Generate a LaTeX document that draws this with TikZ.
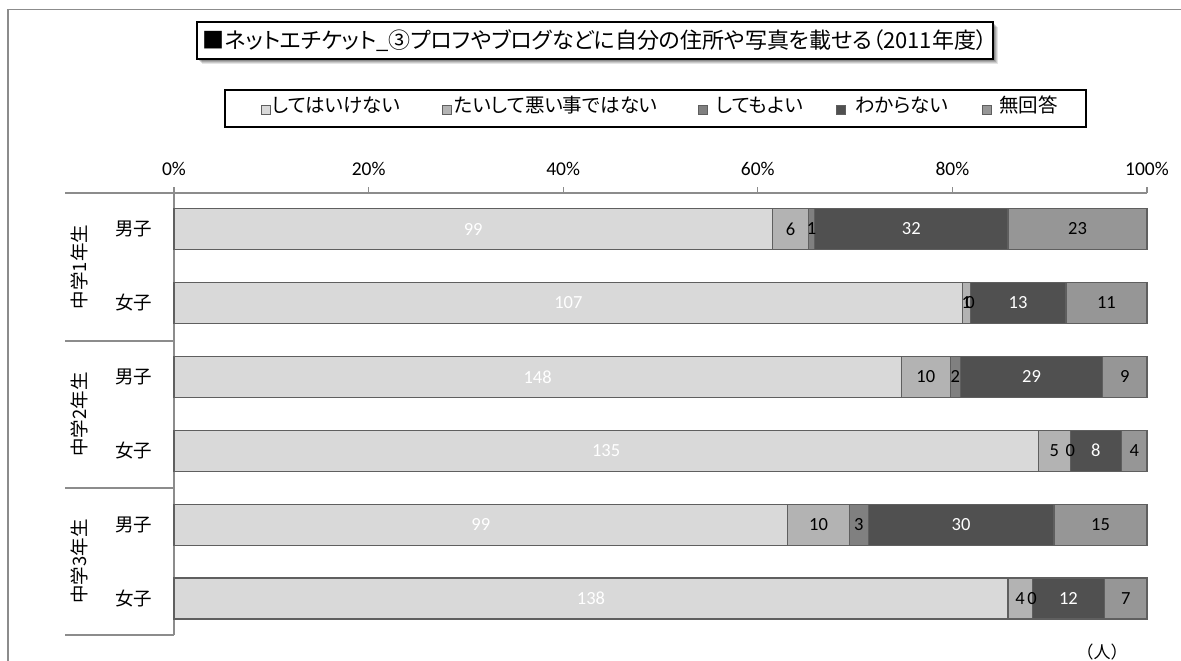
\documentclass[tikz,border=0pt]{standalone}
\usepackage{fontspec}
\setmainfont{Carlito}
\newfontfamily\jp[RawFeature=+palt]{Noto Sans CJK JP}
\newfontfamily\jpn{Noto Sans CJK JP}
\definecolor{sA}{HTML}{D9D9D9}
\definecolor{sB}{HTML}{B3B3B3}
\definecolor{sC}{HTML}{808080}
\definecolor{sD}{HTML}{505050}
\definecolor{sE}{HTML}{969696}
\definecolor{edgegray}{HTML}{5F5F5F}
\definecolor{axisgray}{HTML}{8C8C8C}
\newcommand\barseg[6]{%
  \filldraw[fill=#4, draw=edgegray, line width=1.2pt] (#1,#3-20.5) rectangle (#2,#3+20.5);
}
\begin{document}
\begin{tikzpicture}[x=1pt,y=-1pt,
  lab/.style={font=\fontsize{18.5}{18.5}\selectfont, inner sep=0pt},
  ticklab/.style={font=\fontsize{19.5}{19.5}\selectfont, inner sep=0pt},
  catlab/.style={font=\jpn\fontsize{18.5}{18.5}\selectfont, inner sep=0pt},
  leglab/.style={font=\jp\fontsize{19.5}{19.5}\selectfont, inner sep=0pt, anchor=base west},
  legmark/.style={draw=edgegray, line width=0.9pt},
  axisline/.style={draw=axisgray, line width=1.2pt}]
\useasboundingbox (0,0) rectangle (1181,661);
\fill[white] (0,0) rectangle (1181,661);
% outer frame
\draw[axisgray, line width=1.5pt] (8,661) -- (8,9.5) -- (1181,9.5);
% title with shadow
\foreach \s/\o in {5/0.10,4/0.12,3/0.15,2/0.18}{
  \fill[black, opacity=\o] (197+\s,22+\s) rectangle (993+\s,59+\s);
}
\node[draw=black, fill=white, line width=1.2pt, minimum width=796pt, minimum height=37pt, inner sep=0pt,
  font=\jp\fontsize{22}{22}\selectfont] (title) at (595,40.5)
  {■ネットエチケット\_③プロフやブログなどに自分の住所や写真を載せる（2011年度）};
% legend
\node[draw=black, line width=1.2pt, minimum width=861pt, minimum height=37pt, inner sep=0pt] (legend) at (655.5,108.5) {};
\foreach \mx/\tx/\col/\txt/\nm in {261/272/sA/してはいけない/la, 442/454/sB/たいして悪い事ではない/lb, 698/716/sC/してもよい/lc, 836/855/sD/わからない/ld, 982/999/sE/無回答/le}{
  \filldraw[legmark, fill=\col] (\mx,105) rectangle (\mx+9,114.5);
  \node[leglab] (\nm) at (\tx,112) {\txt};
}
% axis
\draw[axisline] (65,193) -- (1147,193);
\foreach \k in {0,...,5}{
  \pgfmathsetmacro\tx{174+194.6*\k}
  \draw[axisline] (\tx,187) -- (\tx,193);
  \pgfmathtruncatemacro\pc{20*\k}
  \node[ticklab] (t\k) at (\tx,169) {\pc\%};
}
\draw[axisline] (174,187) -- (174,635);
\foreach \yy in {341,488,635}{ \draw[axisline] (65,\yy) -- (174,\yy); }
% group labels
\node[catlab, rotate=90] (g1) at (79,267) {中学1年生};
\node[catlab, rotate=90] (g2) at (79,414.5) {中学2年生};
\node[catlab, rotate=90] (g3) at (79,561.5) {中学3年生};
% bars
\foreach \r/\a/\b/\c/\d/\e in {0/99/6/1/32/23, 1/107/1/0/13/11, 2/148/10/2/29/9, 3/135/5/0/8/4, 4/99/10/3/30/15, 5/138/4/0/12/7}{
  \pgfmathsetmacro\yc{229+73.9*\r}
  \pgfmathsetmacro\tot{\a+\b+\c+\d+\e}
  \pgfmathsetmacro\sc{973/\tot}
  \pgfmathsetmacro\xa{174}
  \pgfmathsetmacro\xb{174+\sc*\a}
  \pgfmathsetmacro\xc{174+\sc*(\a+\b)}
  \pgfmathsetmacro\xd{174+\sc*(\a+\b+\c)}
  \pgfmathsetmacro\xe{174+\sc*(\a+\b+\c+\d)}
  \pgfmathsetmacro\xf{1147}
  \barseg{\xa}{\xb}{\yc}{sA}{white}{\a}
  \barseg{\xb}{\xc}{\yc}{sB}{black}{\b}
  \barseg{\xc}{\xd}{\yc}{sC}{black}{\c}
  \barseg{\xd}{\xe}{\yc}{sD}{white}{\d}
  \barseg{\xe}{\xf}{\yc}{sE}{black}{\e}
  \node[lab, text=white] (v\r a) at ({(\xa+\xb)/2},\yc) {\a};
  \node[lab, text=black] (v\r b) at ({(\xb+\xc)/2},\yc) {\b};
  \node[lab, text=black] (v\r c) at ({(\xc+\xd)/2},\yc) {\c};
  \node[lab, text=white] (v\r d) at ({(\xd+\xe)/2},\yc) {\d};
  \node[lab, text=black] (v\r e) at ({(\xe+\xf)/2},\yc) {\e};
  \pgfmathtruncatemacro\isodd{mod(\r,2)}
  \ifnum\isodd=0
    \node[catlab] (c\r) at (133.5,\yc) {男子};
  \else
    \node[catlab] (c\r) at (133.5,\yc) {女子};
  \fi
}
\node[catlab, font=\jpn\fontsize{17}{17}\selectfont] (unit) at (1102,652) {（人）};
\end{tikzpicture}
\end{document}
